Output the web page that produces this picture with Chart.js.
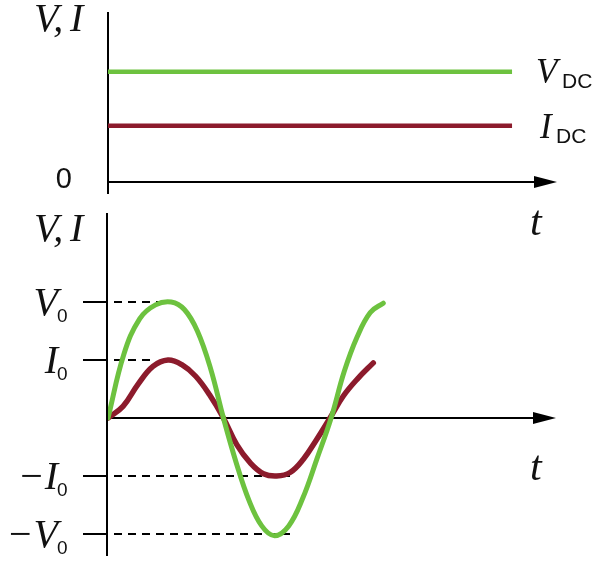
<!DOCTYPE html>
<html><head><meta charset="utf-8">
<script src="https://cdn.jsdelivr.net/npm/chart.js@4/dist/chart.umd.min.js"></script>
<style>
html,body{margin:0;padding:0;background:#fff;width:600px;height:566px;overflow:hidden}
canvas{position:absolute;left:0}
#c1{top:0;width:600px;height:245px}
#c2{top:205px;width:600px;height:361px}
</style></head><body>
<canvas id="c1" width="600" height="245"></canvas>
<canvas id="c2" width="600" height="361"></canvas>
<script>
// ---- data (time in ms, voltage in units of V0/2, current in units of I0) ----
const dcTime = [0, 36.4];
const vdcValues = [1.9, 1.9];
const idcValues = [0.97, 0.97];

const acVTime = [0, 1.43, 2.85, 4.28, 5.7, 6.88, 8.05, 9.23, 10.4, 11.55, 12.7, 13.85, 15.0, 16.28, 17.55, 18.83, 20.1, 21.28, 22.45, 23.63, 24.8];
const acVValues = [0, 1.1, 1.71, 1.95, 2.0, 1.87, 1.5, 0.86, 0, -0.77, -1.42, -1.86, -2.03, -1.86, -1.38, -0.7, 0, 0.8, 1.4, 1.82, 1.98];

const acITime = [0, 1.35, 2.7, 4.05, 5.4, 6.65, 7.9, 9.15, 10.4, 11.6, 12.8, 14.0, 15.2, 16.4, 17.6, 18.8, 20.0, 21.2, 22.5, 23.9];
const acIValues = [0, 0.2, 0.58, 0.89, 1.0, 0.92, 0.72, 0.4, 0, -0.46, -0.77, -0.96, -1.0, -0.94, -0.71, -0.37, 0, 0.38, 0.68, 0.95];

const levelValues = [2, 1, -1, -2];
const levelSigns = ['', '', '\u2212', '\u2212'];
const levelLetters = ['V', 'I', 'I', 'V'];
const levelSubs = ['0', '0', '0', '0'];
const guideEndT = [4.9, 3.8, 16.6, 16.6];

const GREEN = '#6dc23f';
const RED = '#8c1b2c';
const SERIF = '"Liberation Serif", "DejaVu Serif", serif';
const SANS = '"Liberation Sans", Arial, sans-serif';

function pts(xs, ys) { return xs.map((x, i) => ({ x: x, y: ys[i] })); }

function arrowAxis(ctx, x0, x1, y) {
  ctx.save();
  ctx.strokeStyle = '#000'; ctx.fillStyle = '#000'; ctx.lineWidth = 2;
  ctx.beginPath(); ctx.moveTo(x0, y); ctx.lineTo(x1 - 12, y); ctx.stroke();
  ctx.beginPath(); ctx.moveTo(x1, y); ctx.lineTo(x1 - 23, y - 6); ctx.lineTo(x1 - 23, y + 6); ctx.closePath(); ctx.fill();
  ctx.restore();
}
function vline(ctx, x, y0, y1) {
  ctx.save(); ctx.strokeStyle = '#000'; ctx.lineWidth = 2;
  ctx.beginPath(); ctx.moveTo(x, y0); ctx.lineTo(x, y1); ctx.stroke(); ctx.restore();
}
function text(ctx, s, x, y, font, align) {
  ctx.save(); ctx.fillStyle = '#111'; ctx.font = font; ctx.textAlign = align || 'left';
  ctx.textBaseline = 'alphabetic'; ctx.fillText(s, x, y); ctx.restore();
}
function axisTitle(ctx, x, baseline) {
  text(ctx, 'V,', x, baseline, 'italic 40px ' + SERIF);
  text(ctx, 'I', x + 36, baseline, 'italic 40px ' + SERIF);
}

const commonOpts = {
  responsive: false, animation: false, devicePixelRatio: 1,
  plugins: { legend: { display: false }, tooltip: { enabled: false } },
  elements: { point: { radius: 0 } },
};

// ---------- top chart: DC ----------
const topPlugin = {
  id: 'topAxes',
  beforeDatasetsDraw(chart) {
    const ctx = chart.ctx, xs = chart.scales.x, ys = chart.scales.y;
    const x0 = xs.getPixelForValue(0), y0 = ys.getPixelForValue(0);
    vline(ctx, x0, 12, y0 + 12);
    arrowAxis(ctx, x0, chart.chartArea.right + 5, y0);
  },
  afterDraw(chart) {
    const ctx = chart.ctx, ys = chart.scales.y;
    const y0 = ys.getPixelForValue(0);
    axisTitle(ctx, 34, 31);
    text(ctx, '0', 72, y0 + 6, '29px ' + SANS, 'right');
    const yv = ys.getPixelForValue(vdcValues[1]);
    const yi = ys.getPixelForValue(idcValues[1]);
    text(ctx, 'V', 536, yv + 11, 'italic 35px ' + SERIF);
    text(ctx, 'DC', 562, yv + 16, '21px ' + SANS);
    text(ctx, 'I', 540, yi + 12, 'italic 35px ' + SERIF);
    text(ctx, 'DC', 556, yi + 17, '21px ' + SANS);
    text(ctx, 't', 530, y0 + 53, 'italic 42px ' + SERIF);
  }
};

new Chart(document.getElementById('c1'), {
  type: 'line',
  data: { datasets: [
    { data: pts(dcTime, vdcValues), borderColor: GREEN, borderWidth: 4.5, borderCapStyle: 'butt' },
    { data: pts(dcTime, idcValues), borderColor: RED, borderWidth: 4.5, borderCapStyle: 'butt' }
  ] },
  options: Object.assign({}, commonOpts, {
    layout: { padding: { left: 108, right: 48, top: 8, bottom: 63 } },
    scales: {
      x: { type: 'linear', min: 0, max: 40, display: false },
      y: { type: 'linear', min: 0, max: 3, display: false }
    }
  }),
  plugins: [topPlugin]
});

// ---------- bottom chart: AC ----------
const botPlugin = {
  id: 'botAxes',
  beforeDatasetsDraw(chart) {
    const ctx = chart.ctx, xs = chart.scales.x, ys = chart.scales.y;
    const x0 = xs.getPixelForValue(0), y0 = ys.getPixelForValue(0);
    vline(ctx, x0 - 1, 8, chart.height - 10);
    arrowAxis(ctx, x0 - 1, chart.chartArea.right + 4, y0);
    ctx.save();
    levelValues.forEach((v, i) => {
      const y = ys.getPixelForValue(v);
      ctx.strokeStyle = '#000'; ctx.lineWidth = 2; ctx.setLineDash([]);
      ctx.beginPath(); ctx.moveTo(83, y); ctx.lineTo(x0, y); ctx.stroke();
      ctx.setLineDash([8, 6]);
      ctx.beginPath(); ctx.moveTo(x0 + 6, y); ctx.lineTo(xs.getPixelForValue(guideEndT[i]), y); ctx.stroke();
    });
    ctx.restore();
  },
  afterDraw(chart) {
    const ctx = chart.ctx, ys = chart.scales.y;
    const y0 = ys.getPixelForValue(0);
    axisTitle(ctx, 34, 36);
    text(ctx, 't', 530, y0 + 62, 'italic 42px ' + SERIF);
    levelValues.forEach((v, i) => {
      const y = ys.getPixelForValue(v);
      text(ctx, levelSigns[i] + levelLetters[i], 58, y + 13, 'italic 40px ' + SERIF, 'right');
      text(ctx, levelSubs[i], 57, y + 20, '19px ' + SANS);
    });
  }
};

new Chart(document.getElementById('c2'), {
  type: 'line',
  data: { datasets: [
    { data: pts(acVTime, acVValues), borderColor: GREEN, borderWidth: 5, tension: 0.4, borderCapStyle: 'round' },
    { data: pts(acITime, acIValues), borderColor: RED, borderWidth: 5.5, tension: 0.4, borderCapStyle: 'round' }
  ] },
  options: Object.assign({}, commonOpts, {
    layout: { padding: { left: 108, right: 48, top: 10, bottom: 3 } },
    scales: {
      x: { type: 'linear', min: 0, max: 40, display: false },
      y: { type: 'linear', min: -2.5, max: 3.5, display: false }
    }
  }),
  plugins: [botPlugin]
});
</script>
</body></html>
